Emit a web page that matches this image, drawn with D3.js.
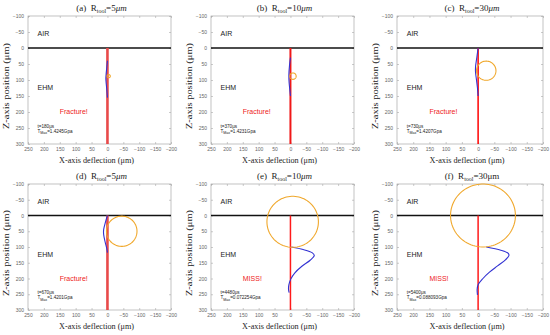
<!DOCTYPE html>
<html>
<head>
<meta charset="utf-8">
<script src="https://cdn.jsdelivr.net/npm/d3@7"></script>
<style>
  body { margin: 0; background: #fff; }
  svg { display: block; }
</style>
</head>
<body>
<script>
// 各子圖資料
const panelIds = ["(a)", "(b)", "(c)", "(d)", "(e)", "(f)"];
const toolRadii = ["5", "10", "30", "5", "10", "30"];
const timeLabels = ["t=180μs", "t=370μs", "t=730μs", "t=670μs", "t=4480μs", "t=5400μs"];
const tMaxLabels = ["1.4245Gpa", "1.4231Gpa", "1.4207Gpa", "1.4201Gpa", "0.072254Gpa", "0.088093Gpa"];
const outcomes = ["Fracture!", "Fracture!", "Fracture!", "Fracture!", "MISS!", "MISS!"];

// 刀具圓 (x, z, 半徑)
const toolX = [-4, -8, -25, -45, -7, -15];
const toolZ = [88, 88, 71, 50, 20, 0];
const toolR = [5, 10, 30, 48, 81, 100];

// 纖維撓曲 [x, z]
const deflA = [[0, 40], [2, 60], [4, 80], [5, 95], [4, 110], [2, 130], [0, 155]];
const deflB = [[0, 30], [3, 55], [5, 85], [4, 110], [2, 130], [0, 150]];
const deflC = [[0, 0], [4, 30], [8, 60], [8, 75], [5, 100], [2, 125], [0, 150]];
const deflD = [[0, 0], [6, 20], [12, 45], [12, 60], [7, 85], [2, 105], [0, 118]];
const deflE = [[-3, 100], [-40, 108], [-68, 118], [-75, 127], [-62, 142], [-35, 162], [-14, 182], [-1, 202], [5, 220], [6, 235], [4, 245]];
const deflF = [[-25, 100], [-70, 110], [-93, 120], [-95, 127], [-85, 140], [-60, 160], [-35, 180], [-15, 200], [0, 220], [3, 235], [2, 252]];
const deflections = [deflA, deflB, deflC, deflD, deflE, deflF];

// 刻度
const xTicks = [250, 200, 150, 100, 50, 0, -50, -100, -150, -200];
const zTicks = [-100, -50, 0, 50, 100, 150, 200, 250, 300];

// 版面
const width = 550, height = 335;
const cols = [[28, 171], [211, 354], [397, 543]];
const rows = [[16, 144], [184, 310]];
const redWidth = [2.6, 2, 1.5, 2.6, 1.5, 1.5];
const redColor = ["#e84a4a", "#f01818", "#ff0000", "#e84a4a", "#ff1a1a", "#ff1a1a"];

const svg = d3.select("body").append("svg")
    .attr("width", width)
    .attr("height", height);

panelIds.forEach((pid, i) => {
    const [l, r] = cols[i % 3];
    const [t, b] = rows[Math.floor(i / 3)];
    const x = d3.scaleLinear().domain([250, -200]).range([l, r]);
    const z = d3.scaleLinear().domain([-100, 300]).range([t, b]);
    const g = svg.append("g");

    // 外框
    g.append("rect")
        .attr("x", l).attr("y", t)
        .attr("width", r - l).attr("height", b - t)
        .attr("fill", "none")
        .attr("stroke", "#a8a8a8")
        .attr("stroke-width", 0.7);

    // 刻度 (內向)
    const xa = g.append("g").attr("transform", `translate(0,${b})`)
        .call(d3.axisBottom(x).tickValues(xTicks).tickSize(-2).tickPadding(4));
    const xt = g.append("g").attr("transform", `translate(0,${t})`)
        .call(d3.axisTop(x).tickValues(xTicks).tickSize(-2).tickFormat(""));
    const za = g.append("g").attr("transform", `translate(${l},0)`)
        .call(d3.axisLeft(z).tickValues(zTicks).tickSize(-2).tickPadding(4));
    const zr = g.append("g").attr("transform", `translate(${r},0)`)
        .call(d3.axisRight(z).tickValues(zTicks).tickSize(-2).tickFormat(""));
    [xa, xt, za, zr].forEach(a => {
        a.select(".domain").remove();
        a.selectAll("line").attr("stroke", "#a8a8a8").attr("stroke-width", 0.6);
        a.selectAll("text").attr("fill", "#666").style("font-size", "5px")
            .style("font-family", "Liberation Sans, Arial");
    });
    xa.selectAll("text").attr("dy", "0.5em");

    // 空氣/材料界面
    g.append("line")
        .attr("x1", l).attr("x2", r)
        .attr("y1", z(0)).attr("y2", z(0))
        .attr("stroke", "#111").attr("stroke-width", 1.5);

    // 紅線
    g.append("line")
        .attr("x1", x(0)).attr("x2", x(0))
        .attr("y1", z(0)).attr("y2", z(300))
        .attr("stroke", redColor[i]).attr("stroke-width", redWidth[i]);

    // 撓曲曲線
    const line = d3.line()
        .x(d => x(d[0]))
        .y(d => z(d[1]))
        .curve(d3.curveCatmullRom);
    g.append("path")
        .attr("d", line(deflections[i]))
        .attr("fill", "none")
        .attr("stroke", "#3232d2")
        .attr("stroke-width", 1.1);

    // 刀具圓
    const circ = d3.range(0, 361, 4).map(a => [
        toolX[i] + toolR[i] * Math.cos(a * Math.PI / 180),
        toolZ[i] + toolR[i] * Math.sin(a * Math.PI / 180)
    ]);
    g.append("path")
        .attr("d", d3.line().x(d => x(d[0])).y(d => z(d[1]))(circ))
        .attr("fill", "none")
        .attr("stroke", "#f0a82c")
        .attr("stroke-width", 1.1);

    // 文字標籤
    const sans = "Liberation Sans, Arial";
    g.append("text").attr("x", x(220)).attr("y", z(-45)).attr("dy", "0.35em")
        .style("font-family", sans).style("font-size", "7px").attr("fill", "#222")
        .text("AIR");
    g.append("text").attr("x", x(220)).attr("y", z(125)).attr("dy", "0.35em")
        .style("font-family", sans).style("font-size", "7px").attr("fill", "#222")
        .text("EHM");
    g.append("text").attr("x", x(150)).attr("y", z(200)).attr("dy", "0.35em")
        .style("font-family", sans).style("font-size", "7px").attr("fill", "#ee2222")
        .text(outcomes[i]);
    g.append("text").attr("x", x(220)).attr("y", z(244)).attr("dy", "0.35em")
        .style("font-family", sans).style("font-size", "4.6px").attr("fill", "#222")
        .text(timeLabels[i]);
    const tm = g.append("text").attr("x", x(220)).attr("y", z(260)).attr("dy", "0.35em")
        .style("font-family", sans).style("font-size", "4.6px").attr("fill", "#222");
    tm.append("tspan").text("T");
    tm.append("tspan").attr("dy", 1.5).style("font-size", "3.6px").text("Max");
    tm.append("tspan").attr("dy", -1.5).text("=" + tMaxLabels[i]);

    // 標題
    const serif = "Liberation Serif, Times New Roman";
    const title = g.append("text")
        .attr("x", (l + r) / 2 + 2).attr("y", t - 5)
        .attr("text-anchor", "middle")
        .style("font-family", serif).style("font-size", "9px").attr("fill", "#222");
    title.append("tspan").text(pid + "\u00a0\u00a0R");
    title.append("tspan").attr("dy", 2).style("font-size", "6px").text("tool");
    title.append("tspan").attr("dy", -2).text("=" + toolRadii[i]);
    title.append("tspan").style("font-style", i === 5 ? "normal" : "italic").text("μm");

    // 軸標題
    g.append("text")
        .attr("x", (l + r) / 2 - 3).attr("y", b + 19)
        .attr("text-anchor", "middle")
        .style("font-family", serif).style("font-size", "9px").attr("fill", "#222")
        .attr("textLength", 75).attr("lengthAdjust", "spacingAndGlyphs")
        .text("X-axis deflection (μm)");
    g.append("text")
        .attr("transform", `translate(${l - 19},${(t + b) / 2 + 6}) rotate(-90)`)
        .attr("text-anchor", "middle")
        .style("font-family", serif).style("font-size", "9px").attr("fill", "#222")
        .attr("textLength", 86).attr("lengthAdjust", "spacingAndGlyphs")
        .text("Z-axis position (μm)");
});
</script>
</body>
</html>
